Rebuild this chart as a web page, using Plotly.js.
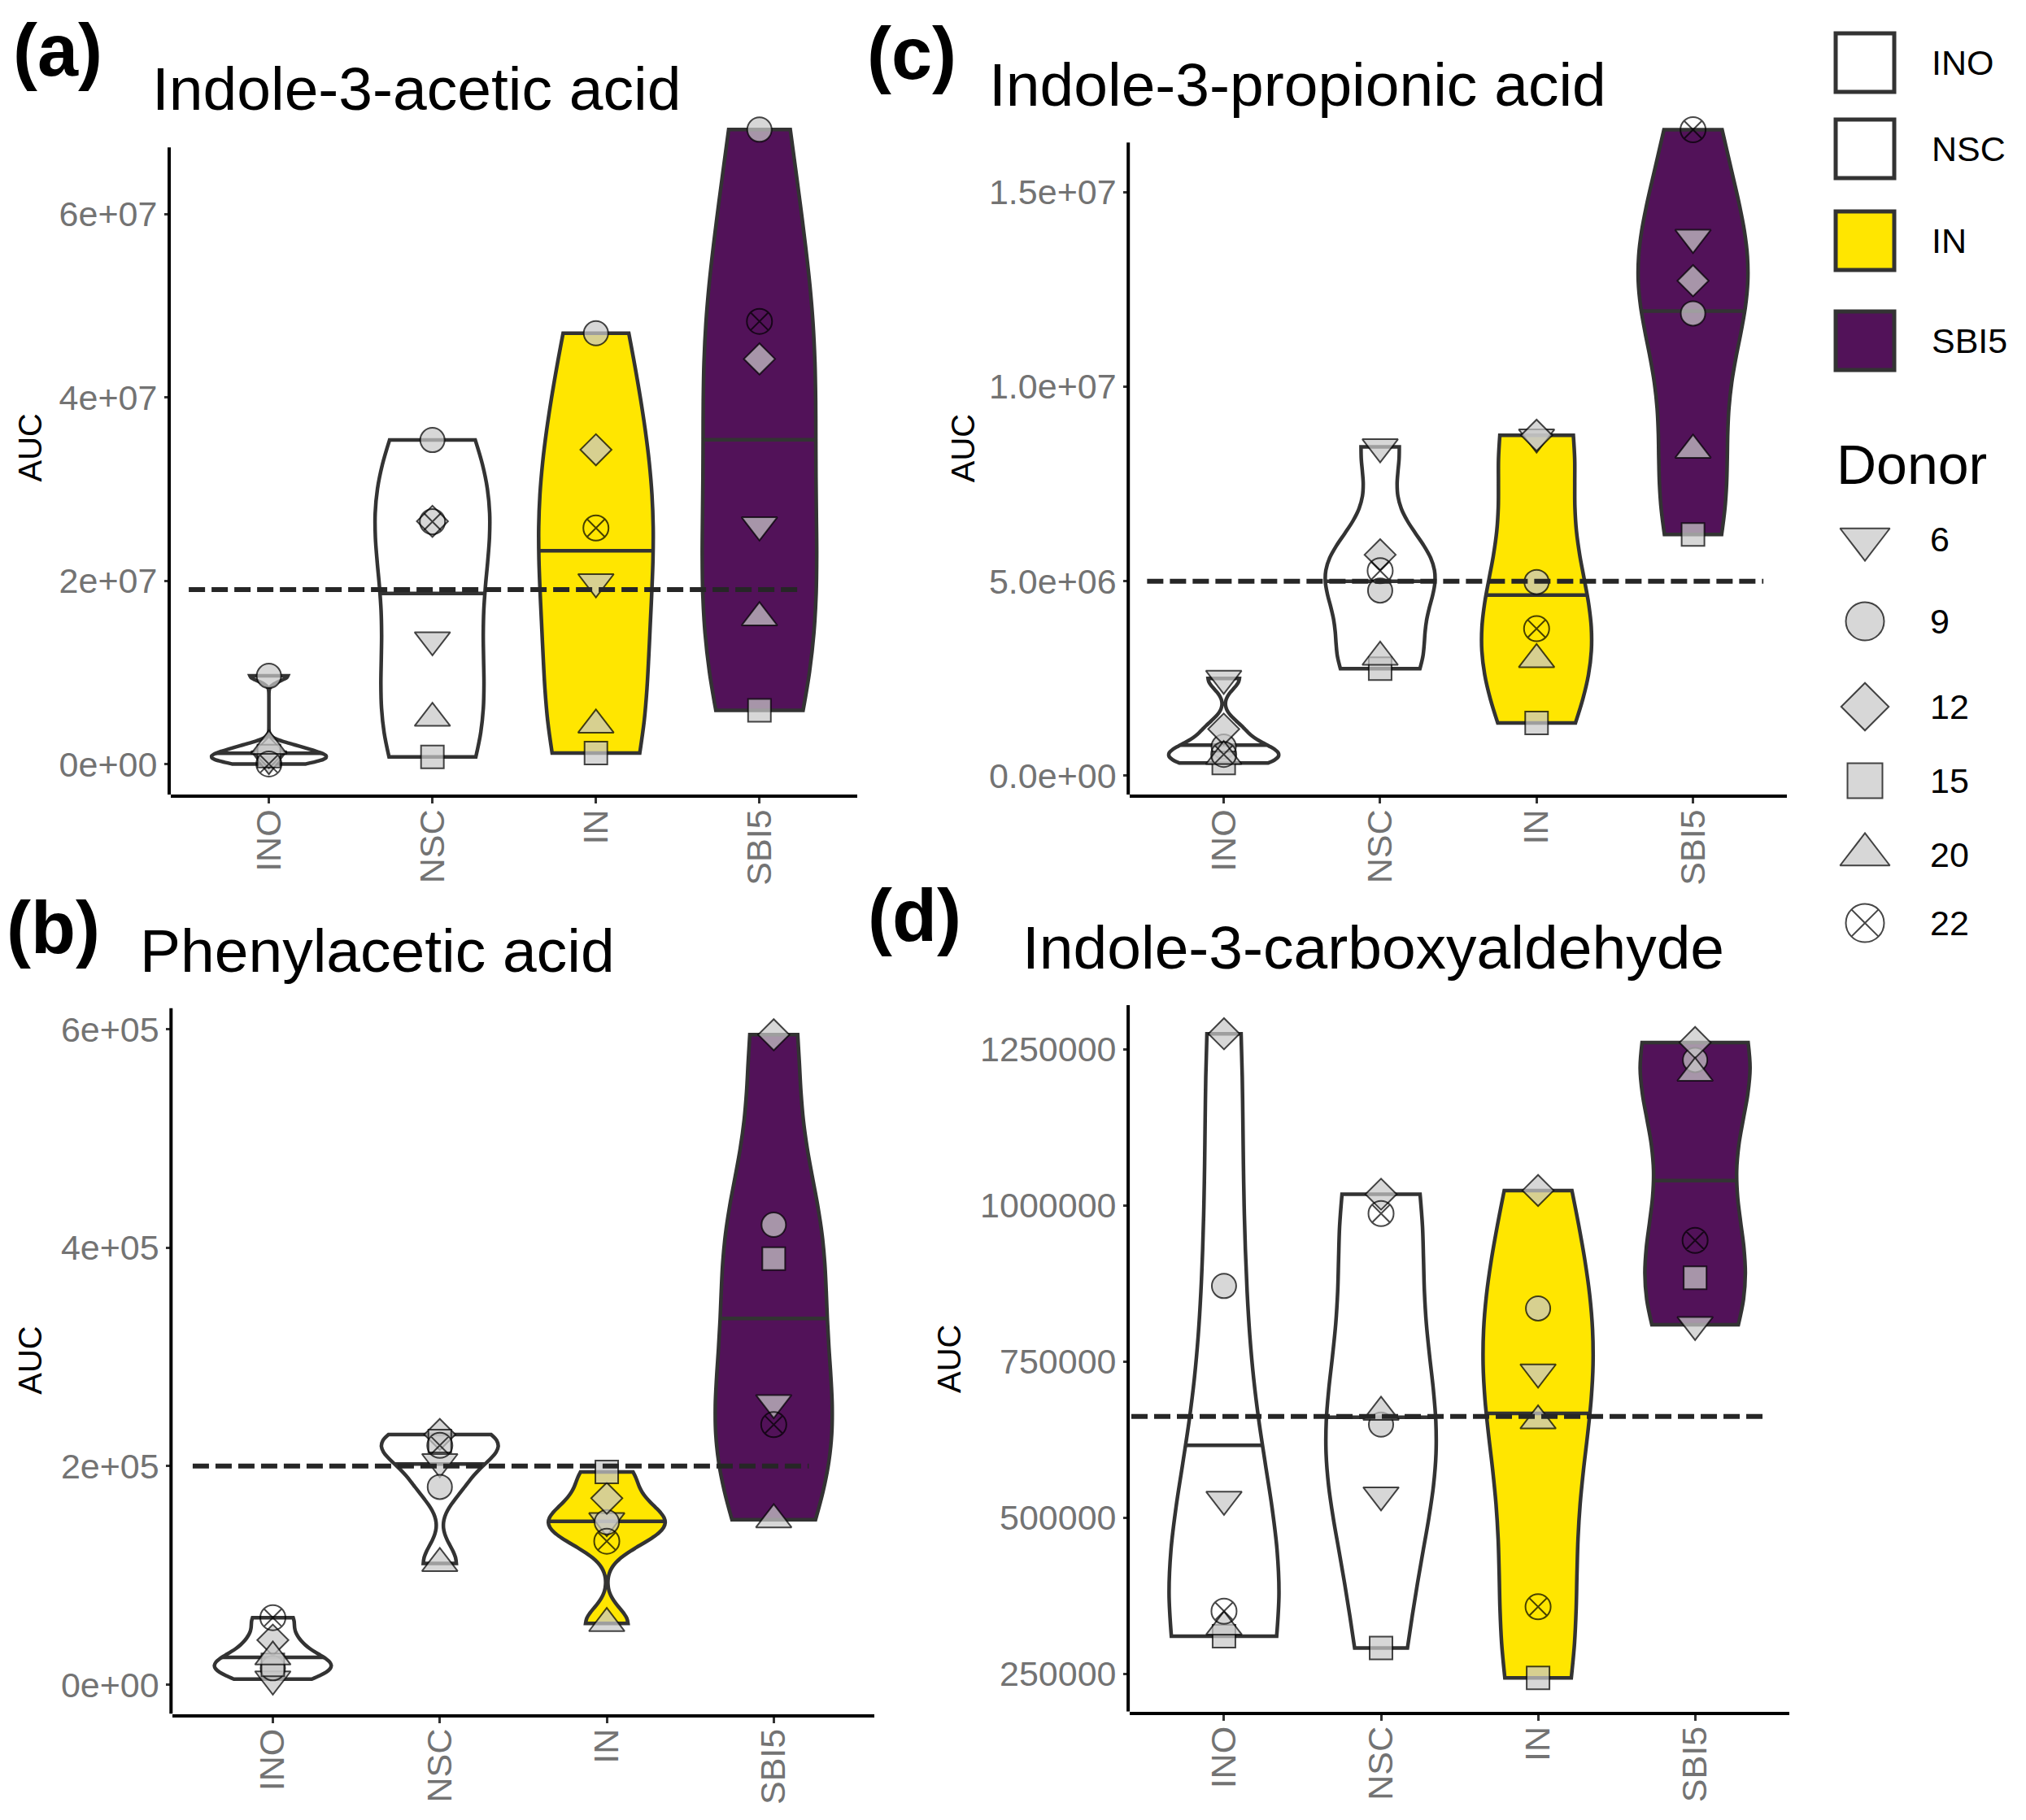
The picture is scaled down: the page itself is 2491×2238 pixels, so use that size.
<!DOCTYPE html>
<html><head><meta charset="utf-8">
<script src="https://cdn.plot.ly/plotly-3.0.1.min.js"></script>
<style>html,body{margin:0;padding:0;background:#fff;} #chart{width:2491px;height:2238px;}</style>
</head><body><div id="chart"></div>
<script>
// ---------------- DATA ----------------
const groups = ["INO", "NSC", "IN", "SBI5"];
const donors = ["6", "9", "12", "15", "20", "22"];
const titles = ["Indole-3-acetic acid", "Phenylacetic acid", "Indole-3-propionic acid", "Indole-3-carboxyaldehyde"];
const letters = ["(a)", "(b)", "(c)", "(d)"];

// values per group, in donor order 6, 9, 12, 15, 20, 22
const iaaINO  = [0.6e6, 9.65e6, 1.3e6, 0.9e6, 2.0e6, 0.05e6];
const iaaNSC  = [1.357e7, 3.536e7, 2.65e7, 0.81e6, 5.04e6, 2.646e7];
const iaaIN   = [1.99e7, 4.70e7, 3.43e7, 1.24e6, 4.3e6, 2.577e7];
const iaaSBI5 = [2.61e7, 6.92e7, 4.42e7, 5.9e6, 1.60e7, 4.83e7];

const paaINO  = [0.5e4, 1.5e4, 4.07e4, 1.8e4, 2.54e4, 6.13e4];
const paaNSC  = [2.04e5, 1.81e5, 2.29e5, 2.23e5, 1.11e5, 2.19e5];
const paaIN   = [1.50e5, 1.487e5, 1.706e5, 1.946e5, 5.6e4, 1.313e5];
const paaSBI5 = [2.58e5, 4.21e5, 5.95e5, 3.90e5, 1.51e5, 2.38e5];

const ipaINO  = [2.5e6, 0.75e6, 1.2e6, 0.33e6, 0.5e6, 0.55e6];
const ipaNSC  = [8.45e6, 4.76e6, 5.68e6, 2.75e6, 3.05e6, 5.27e6];
const ipaIN   = [8.7e6, 4.98e6, 8.75e6, 1.36e6, 2.99e6, 3.78e6];
const ipaSBI5 = [1.383e7, 1.188e7, 1.272e7, 6.2e6, 8.37e6, 1.66e7];

const icaINO  = [529e3, 871e3, 1275e3, 310e3, 325e3, 350e3];
const icaNSC  = [536e3, 649e3, 1018e3, 291e3, 669e3, 987e3];
const icaIN   = [733e3, 835e3, 1024e3, 243e3, 655e3, 357e3];
const icaSBI5 = [809e3, 1233e3, 1261e3, 884e3, 1212e3, 944e3];

// dashed reference level per panel (a, b, c, d)
const refLevels = [1.905e7, 2.0e5, 5.0e6, 6.62e5];

// y tick values / labels per panel
const yTickVals = [[0, 2e7, 4e7, 6e7], [0, 2e5, 4e5, 6e5], [0, 5e6, 1e7, 1.5e7], [250000, 500000, 750000, 1000000, 1250000]];
const yTickText = [["0e+00", "2e+07", "4e+07", "6e+07"], ["0e+00", "2e+05", "4e+05", "6e+05"],
                   ["0.0e+00", "5.0e+06", "1.0e+07", "1.5e+07"], ["250000", "500000", "750000", "1000000", "1250000"]];

// ---------------- STYLE / LAYOUT ----------------
const W = 2491, H = 2238;
const FONT = "Liberation Sans, Arial, sans-serif";
const fills = ["#ffffff", "#ffffff", "#FFE600", "#521259"];
const outline = "#333333";
const symbols = ["triangle-down", "circle", "diamond", "square", "triangle-up", "circle-x-open"];
const symSize = [38, 30, 29.5, 28, 38, 31];
const legSize = [53, 47, 45, 43, 53, 47];
const ptFill = "rgba(200,200,200,0.72)";
const ptLine = "rgba(0,0,0,0.72)";
const VW = 0.7; // violin full width (category units)

const panelData = [
  [iaaINO, iaaNSC, iaaIN, iaaSBI5],
  [paaINO, paaNSC, paaIN, paaSBI5],
  [ipaINO, ipaNSC, ipaIN, ipaSBI5],
  [icaINO, icaNSC, icaIN, icaSBI5]
];
// pixel geometry of each panel: plot-area left/right/top/bottom, y range, top of drawn y axis line, dashed extent
const geom = [
  {l: 210, r: 1054.4, t: 150, b: 977.2, yr: [-3.30e6, 7.003e7], axTop: 6.725e7, dash: [-0.49, 3.26],
   title: [184.5, 108.8], letter: [14, 62], auc: [36.5, 551]},
  {l: 212.3, r: 1074.5, t: 1239.6, b: 2107.6, yr: [-2.69e4, 6.194e5], axTop: 6.194e5, dash: [-0.48, 3.21],
   title: [169.9, 1169], letter: [5.5, 1141], auc: [36.7, 1673]},
  {l: 1389.2, r: 2197, t: 148, b: 977.2, yr: [-4.85e5, 1.684e7], axTop: 1.627e7, dash: [-0.49, 3.45],
   title: [1213.8, 104], letter: [1063.6, 66], auc: [1184.2, 551]},
  {l: 1389.1, r: 2200, t: 1236, b: 2104.7, yr: [189160, 1320870], axTop: 1320870, dash: [-0.59, 3.44],
   title: [1255.3, 1165], letter: [1064.5, 1126], auc: [1167, 1671]}
];

const px2x = p => p / W;
const px2y = p => 1 - p / H;

// ---------------- KDE helpers (ggplot-like nrd0 + density quantile) ----------------
function q7(s, p) { const h = (s.length - 1) * p, lo = Math.floor(h), hi = Math.ceil(h); return s[lo] + (h - lo) * (s[hi] - s[lo]); }
function sdev(v) { const m = v.reduce((a, b) => a + b, 0) / v.length; return Math.sqrt(v.reduce((a, b) => a + (b - m) * (b - m), 0) / (v.length - 1)); }
function nrd0(v) {
  const s = [...v].sort((a, b) => a - b);
  const hi = sdev(v);
  const iqr = q7(s, 0.75) - q7(s, 0.25);
  let lo = Math.min(hi, iqr / 1.34);
  if (!(lo > 0)) lo = hi || Math.abs(s[0]) || 1;
  return 0.9 * lo * Math.pow(v.length, -0.2);
}
function makeKde(v, bw) {
  const c = 1 / (v.length * bw * Math.sqrt(2 * Math.PI));
  return t => { let s = 0; for (const x of v) { const z = (t - x) / bw; s += Math.exp(-0.5 * z * z); } return s * c; };
}
function medianSegment(v, bw) {
  const k = makeKde(v, bw);
  const mn = Math.min(...v), mx = Math.max(...v);
  const dist = mx - mn, n = Math.ceil(dist / (bw / 3)), step = dist / n;
  let maxK = 0;
  for (let i = 0; i <= n; i++) maxK = Math.max(maxK, k(mn + i * step));
  const N = 512, ys = [], ds = [];
  for (let i = 0; i < N; i++) { const y = mn + dist * i / (N - 1); ys.push(y); ds.push(k(y)); maxK = Math.max(maxK, ds[i]); }
  const tot = ds.reduce((a, b) => a + b, 0);
  let cum = 0, prevC = 0, q = ys[0];
  for (let i = 0; i < N; i++) {
    cum += ds[i] / tot;
    if (cum >= 0.5) {
      if (i === 0) { q = ys[0]; } else { const f = (0.5 - prevC) / (cum - prevC); q = ys[i - 1] + f * (ys[i] - ys[i - 1]); }
      break;
    }
    prevC = cum;
  }
  return {q: q, hw: (VW / 2) * k(q) / maxK};
}

// ---------------- TRACES ----------------
const traces = [];
const layout = {
  width: W, height: H, margin: {l: 0, r: 0, t: 0, b: 0},
  paper_bgcolor: "#ffffff", plot_bgcolor: "rgba(0,0,0,0)",
  showlegend: false, violinmode: "overlay", violingap: 0, violingroupgap: 0,
  font: {family: FONT, color: "#000"},
  shapes: [], annotations: []
};

panelData.forEach((vals, p) => {
  const g = geom[p];
  const xa = "x" + (p + 1), ya = "y" + (p + 1);
  const xk = "xaxis" + (p + 1), yk = "yaxis" + (p + 1);
  layout[xk] = {
    domain: [px2x(g.l), px2x(g.r)], range: [-0.6, 3.6], anchor: ya,
    tickvals: [0, 1, 2, 3], ticktext: groups, tickangle: -90,
    ticks: "outside", ticklen: 7, tickwidth: 3, tickcolor: "#333333", ticklabelstandoff: -10,
    showline: true, linecolor: "#000000", linewidth: 4, mirror: false,
    showgrid: false, zeroline: false, fixedrange: true,
    tickfont: {family: FONT, size: 43, color: "#737373"}
  };
  layout[yk] = {
    domain: [px2y(g.b), px2y(g.t)], range: g.yr, anchor: xa,
    tickvals: yTickVals[p], ticktext: yTickText[p],
    ticks: "outside", ticklen: 7, tickwidth: 3, tickcolor: "#333333",
    showline: false, showgrid: false, zeroline: false, fixedrange: true,
    tickfont: {family: FONT, size: 43, color: "#737373"}
  };
  layout.shapes.push({type: "line", xref: xa + " domain", yref: ya,
    x0: -2 / (g.r - g.l), x1: -2 / (g.r - g.l), y0: g.yr[0], y1: g.axTop,
    line: {color: "#000000", width: 4}, layer: "above"});
  layout.shapes.push({type: "line", xref: xa, yref: ya, x0: g.dash[0], x1: g.dash[1],
    y0: refLevels[p], y1: refLevels[p], line: {color: "#262626", width: 6, dash: "20px,8px"}, layer: "above"});

  vals.forEach((v, i) => {
    traces.push({
      type: "violin", x0: i, y: v, xaxis: xa, yaxis: ya, name: groups[i],
      width: VW, spanmode: "hard", bandwidth: nrd0(v), scalemode: "width",
      points: false, box: {visible: false}, meanline: {visible: false},
      fillcolor: fills[i], line: {color: outline, width: 4.5}, hoverinfo: "skip", showlegend: false
    });
  });
  vals.forEach((v, i) => {
    const m = medianSegment(v, nrd0(v));
    traces.push({type: "scatter", mode: "lines", xaxis: xa, yaxis: ya,
      x: [i - m.hw, i + m.hw], y: [m.q, m.q], line: {color: outline, width: 4.5}, hoverinfo: "skip", showlegend: false});
  });
  donors.forEach((d, j) => {
    const isOpen = symbols[j].endsWith("open");
    traces.push({
      type: "scatter", mode: "markers", xaxis: xa, yaxis: ya, name: d,
      x: groups.map((_, i) => i), y: vals.map(v => v[j]), cliponaxis: false,
      marker: {symbol: symbols[j], size: symSize[j], color: isOpen ? ptLine : ptFill,
        line: {color: ptLine, width: 2}},
      showlegend: false
    });
  });

  layout.annotations.push({xref: "paper", yref: "paper", x: px2x(g.title[0]), y: px2y(g.title[1]),
    xanchor: "left", yanchor: "middle", showarrow: false, text: titles[p],
    font: {family: FONT, size: 75, color: "#000"}});
  layout.annotations.push({xref: "paper", yref: "paper", x: px2x(g.letter[0]), y: px2y(g.letter[1]),
    xanchor: "left", yanchor: "middle", showarrow: false, text: letters[p],
    font: {family: FONT, size: 90, color: "#000", weight: 700}});
  layout.annotations.push({xref: "paper", yref: "paper", x: px2x(g.auc[0]), y: px2y(g.auc[1]),
    xanchor: "center", yanchor: "middle", showarrow: false, text: "AUC", textangle: -90,
    font: {family: FONT, size: 40, color: "#000"}});
});

// ---------------- LEGEND (drawn on a hidden pixel-space axis) ----------------
const legGroupY = [77, 183, 296, 419];
const legDonorY = [663, 764, 869, 960, 1051, 1135];
const legKeyX = 2293, legTextX = 2373;
layout.xaxis5 = {domain: [0, 1], range: [0, W], visible: false, fixedrange: true, anchor: "y5"};
layout.yaxis5 = {domain: [0, 1], range: [H, 0], visible: false, fixedrange: true, anchor: "x5"};
groups.forEach((gname, i) => {
  layout.shapes.push({type: "rect", xref: "paper", yref: "paper",
    x0: px2x(legKeyX - 36), x1: px2x(legKeyX + 36), y0: px2y(legGroupY[i] + 36), y1: px2y(legGroupY[i] - 36),
    fillcolor: fills[i], line: {color: outline, width: 5}, layer: "above"});
  layout.annotations.push({xref: "paper", yref: "paper", x: px2x(legTextX), y: px2y(legGroupY[i]),
    xanchor: "left", yanchor: "middle", showarrow: false, text: gname, font: {family: FONT, size: 43, color: "#000"}});
});
layout.annotations.push({xref: "paper", yref: "paper", x: px2x(2256), y: px2y(571),
  xanchor: "left", yanchor: "middle", showarrow: false, text: "Donor", font: {family: FONT, size: 68, color: "#000"}});
donors.forEach((d, j) => {
  const isOpen = symbols[j].endsWith("open");
  traces.push({type: "scatter", mode: "markers", xaxis: "x5", yaxis: "y5",
    x: [legKeyX], y: [legDonorY[j]], cliponaxis: false, hoverinfo: "skip", showlegend: false,
    marker: {symbol: symbols[j], size: legSize[j], color: isOpen ? ptLine : ptFill, line: {color: ptLine, width: 2}}});
  layout.annotations.push({xref: "paper", yref: "paper", x: px2x(legTextX - 2), y: px2y(legDonorY[j]),
    xanchor: "left", yanchor: "middle", showarrow: false, text: d, font: {family: FONT, size: 43, color: "#000"}});
});

Plotly.newPlot("chart", traces, layout, {staticPlot: true, displayModeBar: false});
</script>
</body></html>
